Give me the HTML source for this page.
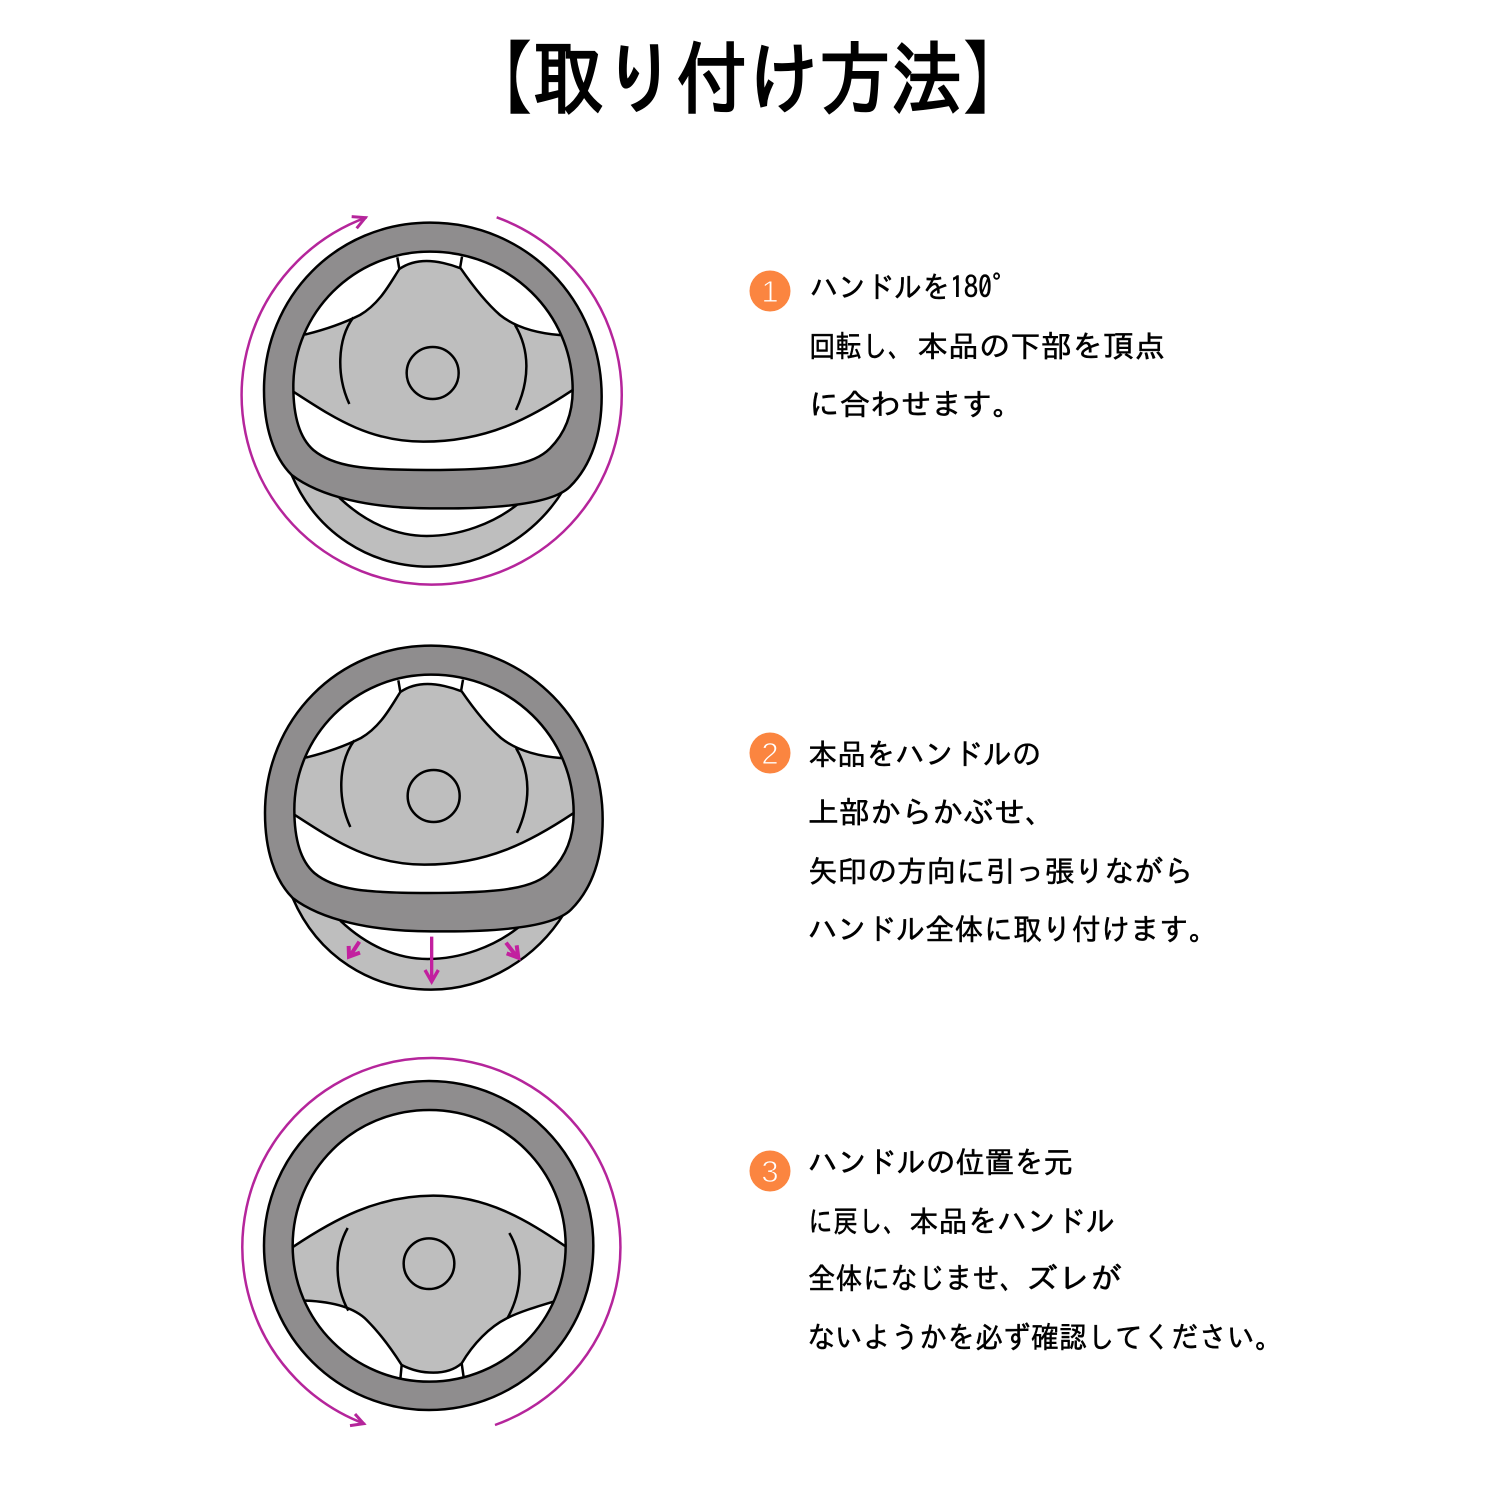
<!DOCTYPE html>
<html lang="ja"><head><meta charset="utf-8"><style>
html,body{margin:0;padding:0;background:#fff}
svg{display:block}
.t{font-family:"IPAGothic","Noto Sans CJK JP",sans-serif;font-size:30px;fill:#000;stroke:#000;stroke-width:.5px}
.n{font-family:"Liberation Sans",sans-serif;font-size:31px;fill:#fff;stroke:#fb8540;stroke-width:.9px;text-anchor:middle}
.ti{font-family:"IPAGothic","Noto Sans CJK JP",sans-serif;font-size:80px;fill:#000;stroke:#000;stroke-width:2.4px}
.m{fill:none;stroke:#b5259b;stroke-width:7.5}
.k{fill:none;stroke:#000;stroke-width:7.5}
</style></head><body>
<svg width="1500" height="1500" viewBox="0 0 1500 1500" xmlns="http://www.w3.org/2000/svg">
<rect width="1500" height="1500" fill="#fff"/>
<defs>
<g id="w">
<path d="M215 825C290 1000 450 1100 630 1100C800 1100 950 1000 1030 870L900 700H300Z" fill="#bebebe" stroke="#000" stroke-width="7.5"/>
<path d="M360 895C440 970 530 1008 620 1008C720 1008 820 970 890 915L800 800H400Z" fill="#fff" stroke="#000" stroke-width="7.5"/>
<path d="M630 155C870 155 1058 340 1058 570C1058 640 1035 700 990 745C940 795 850 810 620 810C430 810 340 800 280 750C240 715 220 650 220 560C220 340 400 155 630 155Z" fill="#fff"/>
<path d="M170 575L220 575C330 645 440 725 610 725C800 725 930 655 1055 572L1090 572L1090 405L1018 405C960 400 890 385 840 345C800 310 760 260 722 205C690 192 650 183 620 183C590 183 560 192 538 207C510 250 480 310 420 345C370 370 310 390 258 403L170 403Z" fill="#bebebe" stroke="#000" stroke-width="7.5"/>
<path class="k" d="M532 172L538 207M726 170L720 205M400 352C350 420 350 530 388 612M885 375C930 450 930 540 888 630"/>
<circle cx="638" cy="519" r="78" class="k"/>
<path fill-rule="evenodd" fill="#8f8d8e" stroke="#000" stroke-width="7.5" d="M630 68C920 68 1145 300 1145 590C1145 700 1115 795 1050 860C1000 910 850 928 630 925C450 925 300 890 215 825C160 770 132 680 132 570C132 290 350 68 630 68ZM630 155C870 155 1058 340 1058 570C1058 640 1035 700 990 745C940 795 850 810 620 810C430 810 340 800 280 750C240 715 220 650 220 560C220 340 400 155 630 155Z"/>
</g>
</defs>
<g transform="translate(220,200) scale(.33333)">
<use href="#w"/>
<path class="m" d="M830 52A570 568 0 1 1 440 52"/>
<path class="m" style="stroke-width:9" d="M395 50L436 53L410 85"/>
</g>
<g transform="translate(221,623) scale(.33333)"><use href="#w"/></g>
<g transform="translate(250,640) scale(.33333)" fill="none" stroke="#c2209f" stroke-width="10">
<path d="M545 890V1020M525 990L545 1025L565 990"/>
<path stroke-width="12" d="M328 905L300 948M296 918L297 950L330 938M768 908L802 952M770 940L805 953L800 916"/>
</g>
<g transform="translate(220,1050) scale(.33333)">
<ellipse cx="628" cy="587" rx="410" ry="408" fill="#fff"/>
<path d="M180 590L220 590C340 510 470 437 640 437C800 437 920 510 1035 588L1060 588L1060 755L1000 755C950 770 900 785 860 805C810 830 760 880 725 940C700 962 670 968 640 968C600 968 570 958 545 945C510 890 470 840 440 810C400 770 330 755 258 752L180 752Z" fill="#bebebe" stroke="#000" stroke-width="7.5"/>
<path class="k" d="M545 945L541 988M725 940L731 982M383 534C340 610 345 710 385 782M868 549C910 620 910 720 862 805"/>
<circle cx="627" cy="641" r="76" class="k"/>
<path fill-rule="evenodd" fill="#8f8d8e" stroke="#000" stroke-width="7.5" d="M627 93C900 93 1120 315 1120 587C1120 860 900 1080 627 1080C355 1080 132 860 132 587C132 315 355 93 627 93ZM628 180C855 180 1037 362 1037 587C1037 812 855 995 628 995C400 995 218 812 218 587C218 362 400 180 628 180Z"/>
<path class="m" d="M825 1125A567 567 0 1 0 435 1122"/>
<path class="m" style="stroke-width:9" d="M405 1092L431 1121L390 1127"/>
</g>
<text class="ti" x="461" y="107" textLength="573" lengthAdjust="spacingAndGlyphs">【取り付け方法】</text>
<circle cx="770" cy="291" r="20.5" fill="#fb8540"/><text class="n" x="770" y="302">1</text>
<circle cx="770" cy="753" r="20.5" fill="#fb8540"/><text class="n" x="770" y="764">2</text>
<circle cx="770" cy="1171" r="20.5" fill="#fb8540"/><text class="n" x="770" y="1182">3</text>
<text class="t" x="810" y="298" textLength="210" lengthAdjust="spacingAndGlyphs">ハンドルを180°</text>
<text class="t" x="809" y="357" textLength="105" lengthAdjust="spacingAndGlyphs">回転し、</text>
<text class="t" x="917" y="357" textLength="248" lengthAdjust="spacingAndGlyphs">本品の下部を頂点</text>
<text class="t" x="809" y="415" textLength="214" lengthAdjust="spacingAndGlyphs">に合わせます。</text>
<text class="t" x="808" y="765" textLength="233" lengthAdjust="spacingAndGlyphs">本品をハンドルの</text>
<text class="t" x="808" y="823" textLength="248" lengthAdjust="spacingAndGlyphs">上部からかぶせ、</text>
<text class="t" x="808" y="882" textLength="385" lengthAdjust="spacingAndGlyphs">矢印の方向に引っ張りながら</text>
<text class="t" x="808" y="940" textLength="410" lengthAdjust="spacingAndGlyphs">ハンドル全体に取り付けます。</text>
<text class="t" x="808" y="1173" textLength="265" lengthAdjust="spacingAndGlyphs">ハンドルの位置を元</text>
<text class="t" x="808" y="1232" textLength="100" lengthAdjust="spacingAndGlyphs">に戻し、</text>
<text class="t" x="909" y="1232" textLength="206" lengthAdjust="spacingAndGlyphs">本品をハンドル</text>
<text class="t" x="808" y="1289" textLength="219" lengthAdjust="spacingAndGlyphs">全体になじませ、</text>
<text class="t" x="1026" y="1289" textLength="96" lengthAdjust="spacingAndGlyphs">ズレが</text>
<text class="t" x="807" y="1348" textLength="476" lengthAdjust="spacingAndGlyphs">ないようかを必ず確認してください。</text>
</svg>
</body></html>
